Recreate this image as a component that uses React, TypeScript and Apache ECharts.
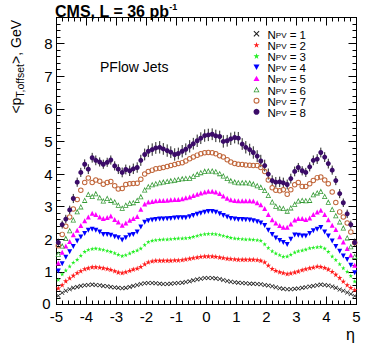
import React, { useEffect, useRef } from 'react';
import * as echarts from 'echarts';

const eta = [
  -4.94, -4.81, -4.69, -4.56, -4.44, -4.31, -4.19, -4.06, -3.94, -3.81,
  -3.69, -3.56, -3.44, -3.31, -3.19, -3.06, -2.94, -2.81, -2.69, -2.56,
  -2.44, -2.31, -2.19, -2.06, -1.94, -1.81, -1.69, -1.56, -1.44, -1.31,
  -1.19, -1.06, -0.94, -0.81, -0.69, -0.56, -0.44, -0.31, -0.19, -0.06,
  0.06, 0.19, 0.31, 0.44, 0.56, 0.69, 0.81, 0.94, 1.06, 1.19,
  1.31, 1.44, 1.56, 1.69, 1.81, 1.94, 2.06, 2.19, 2.31, 2.44,
  2.56, 2.69, 2.81, 2.94, 3.06, 3.19, 3.31, 3.44, 3.56, 3.69,
  3.81, 3.94, 4.06, 4.19, 4.31, 4.44, 4.56, 4.69, 4.81, 4.94,
];

const npv1 = [
  0.27, 0.36, 0.42, 0.47, 0.51, 0.54, 0.57, 0.59, 0.60, 0.61,
  0.60, 0.59, 0.57, 0.56, 0.54, 0.52, 0.51, 0.50, 0.51, 0.54,
  0.57, 0.60, 0.63, 0.65, 0.66, 0.66, 0.65, 0.64, 0.63, 0.63,
  0.64, 0.65, 0.66, 0.67, 0.69, 0.71, 0.74, 0.77, 0.79, 0.81,
  0.81, 0.81, 0.80, 0.78, 0.75, 0.72, 0.70, 0.68, 0.67, 0.66,
  0.65, 0.64, 0.64, 0.63, 0.62, 0.60, 0.58, 0.56, 0.53, 0.50,
  0.48, 0.47, 0.47, 0.48, 0.49, 0.51, 0.53, 0.55, 0.57, 0.59,
  0.61, 0.60, 0.58, 0.55, 0.51, 0.46, 0.42, 0.37, 0.32, 0.26,
];

const npv2 = [
  0.50, 0.60, 0.72, 0.81, 0.89, 0.97, 1.03, 1.09, 1.12, 1.15,
  1.15, 1.14, 1.12, 1.10, 1.07, 1.03, 0.99, 0.97, 1.00, 1.04,
  1.08, 1.11, 1.16, 1.24, 1.30, 1.33, 1.35, 1.35, 1.35, 1.35,
  1.35, 1.36, 1.36, 1.37, 1.39, 1.41, 1.43, 1.45, 1.47, 1.48,
  1.48, 1.48, 1.47, 1.45, 1.43, 1.41, 1.40, 1.39, 1.38, 1.38,
  1.38, 1.38, 1.38, 1.37, 1.35, 1.30, 1.20, 1.10, 1.04, 1.00,
  0.97, 0.94, 0.96, 0.99, 1.02, 1.06, 1.09, 1.12, 1.14, 1.17,
  1.16, 1.13, 1.08, 1.01, 0.92, 0.82, 0.71, 0.60, 0.52, 0.45,
];

const npv3 = [
  0.76, 0.93, 1.05, 1.17, 1.29, 1.38, 1.50, 1.62, 1.68, 1.71,
  1.72, 1.70, 1.68, 1.65, 1.62, 1.58, 1.53, 1.49, 1.52, 1.57,
  1.62, 1.66, 1.72, 1.83, 1.92, 1.96, 1.98, 1.99, 2.00, 2.00,
  2.01, 2.02, 2.03, 2.03, 2.04, 2.05, 2.08, 2.11, 2.14, 2.16,
  2.17, 2.17, 2.16, 2.14, 2.11, 2.08, 2.05, 2.03, 2.02, 2.01,
  2.00, 2.00, 1.99, 1.98, 1.96, 1.85, 1.74, 1.64, 1.57, 1.52,
  1.47, 1.48, 1.53, 1.60, 1.64, 1.66, 1.69, 1.73, 1.75, 1.76,
  1.77, 1.72, 1.62, 1.48, 1.37, 1.24, 1.12, 1.01, 0.88, 0.71,
];

const npv4 = [
  1.03, 1.25, 1.45, 1.62, 1.78, 1.95, 2.07, 2.18, 2.28, 2.31,
  2.28, 2.22, 2.15, 2.15, 2.12, 2.08, 2.05, 1.98, 2.05, 2.12,
  2.15, 2.22, 2.38, 2.52, 2.57, 2.59, 2.61, 2.62, 2.62, 2.63,
  2.64, 2.65, 2.66, 2.66, 2.66, 2.69, 2.73, 2.77, 2.80, 2.83,
  2.85, 2.85, 2.83, 2.78, 2.73, 2.68, 2.64, 2.62, 2.61, 2.61,
  2.60, 2.59, 2.57, 2.54, 2.50, 2.42, 2.28, 2.15, 2.04, 1.96,
  1.90, 1.84, 2.00, 2.13, 2.12, 2.10, 2.10, 2.18, 2.26, 2.31,
  2.36, 2.22, 2.10, 1.95, 1.78, 1.63, 1.49, 1.38, 1.20, 0.97,
];

const npv5 = [
  1.27, 1.60, 1.79, 1.93, 2.14, 2.28, 2.42, 2.57, 2.68, 2.80,
  2.76, 2.68, 2.64, 2.67, 2.71, 2.61, 2.53, 2.43, 2.50, 2.58,
  2.64, 2.70, 2.92, 3.08, 3.14, 3.16, 3.18, 3.19, 3.19, 3.20,
  3.21, 3.22, 3.22, 3.24, 3.27, 3.30, 3.34, 3.38, 3.42, 3.45,
  3.47, 3.47, 3.45, 3.40, 3.33, 3.26, 3.21, 3.19, 3.18, 3.18,
  3.18, 3.18, 3.17, 3.12, 3.06, 2.94, 2.76, 2.60, 2.50, 2.42,
  2.37, 2.37, 2.47, 2.59, 2.64, 2.64, 2.61, 2.65, 2.76, 2.84,
  2.89, 2.76, 2.60, 2.43, 2.30, 2.08, 1.92, 1.72, 1.52, 1.20,
];

const npv6 = [
  1.55, 1.80, 2.03, 2.27, 2.60, 2.85, 3.00, 3.20, 3.38, 3.32,
  3.40, 3.28, 3.18, 3.26, 3.20, 3.15, 3.05, 2.96, 3.05, 3.11,
  3.13, 3.20, 3.31, 3.52, 3.62, 3.68, 3.71, 3.74, 3.76, 3.78,
  3.80, 3.82, 3.84, 3.86, 3.87, 3.88, 3.94, 4.00, 4.05, 4.09,
  4.10, 4.10, 4.08, 4.02, 3.95, 3.87, 3.80, 3.76, 3.74, 3.74,
  3.74, 3.73, 3.70, 3.65, 3.60, 3.50, 3.35, 3.15, 3.02, 2.97,
  2.95, 2.87, 2.97, 3.08, 3.18, 3.20, 3.19, 3.20, 3.37, 3.43,
  3.47, 3.32, 3.14, 2.92, 2.73, 2.54, 2.35, 2.05, 1.78, 1.48,
];

const npv7 = [
  1.80, 2.15, 2.40, 2.68, 2.93, 3.22, 3.50, 3.74, 3.88, 3.74,
  3.82, 3.78, 3.69, 3.74, 3.77, 3.64, 3.54, 3.56, 3.68, 3.70,
  3.71, 3.72, 3.84, 4.00, 4.08, 4.12, 4.16, 4.18, 4.20, 4.23,
  4.26, 4.29, 4.32, 4.35, 4.40, 4.47, 4.52, 4.58, 4.62, 4.65,
  4.66, 4.65, 4.62, 4.56, 4.52, 4.44, 4.37, 4.32, 4.30, 4.29,
  4.28, 4.27, 4.26, 4.26, 4.20, 4.08, 3.82, 3.58, 3.50, 3.49,
  3.52, 3.38, 3.52, 3.67, 3.74, 3.62, 3.62, 3.70, 3.80, 3.89,
  3.91, 3.82, 3.70, 3.45, 3.13, 2.84, 2.68, 2.50, 2.22, 1.89,
];

const npv8 = [
  1.90, 2.45, 2.62, 2.90, 3.25, 3.75, 4.05, 4.30, 4.15, 4.50,
  4.42, 4.37, 4.30, 4.36, 4.43, 4.25, 4.15, 4.05, 4.14, 4.10,
  4.16, 4.20, 4.42, 4.60, 4.70, 4.75, 4.80, 4.82, 4.77, 4.72,
  4.67, 4.60, 4.63, 4.70, 4.76, 4.85, 4.93, 5.02, 5.10, 5.18,
  5.20, 5.22, 5.17, 5.15, 5.00, 5.02, 5.08, 5.12, 5.10, 4.92,
  4.82, 4.75, 4.66, 4.55, 4.40, 4.26, 4.00, 3.80, 3.75, 3.76,
  3.73, 3.68, 3.86, 4.08, 4.20, 4.10, 4.05, 4.22, 4.42, 4.46,
  4.66, 4.52, 4.32, 4.12, 3.80, 3.40, 3.12, 2.78, 2.45, 1.90,
];

const err8 = [
  0.12, 0.12, 0.13, 0.13, 0.14, 0.14, 0.14, 0.15, 0.15, 0.15,
  0.15, 0.14, 0.14, 0.14, 0.14, 0.14, 0.15, 0.15, 0.15, 0.16,
  0.16, 0.16, 0.17, 0.18, 0.18, 0.19, 0.18, 0.19, 0.18, 0.19,
  0.18, 0.19, 0.18, 0.19, 0.18, 0.19, 0.18, 0.19, 0.18, 0.19,
  0.19, 0.18, 0.19, 0.18, 0.19, 0.18, 0.19, 0.18, 0.19, 0.18,
  0.19, 0.18, 0.19, 0.18, 0.19, 0.18, 0.17, 0.16, 0.16, 0.16,
  0.16, 0.15, 0.15, 0.15, 0.14, 0.14, 0.14, 0.14, 0.15, 0.15,
  0.15, 0.15, 0.15, 0.14, 0.14, 0.14, 0.13, 0.13, 0.12, 0.12,
];

const seriesNames = [
  'N_PV = 1', 'N_PV = 2', 'N_PV = 3', 'N_PV = 4',
  'N_PV = 5', 'N_PV = 6', 'N_PV = 7', 'N_PV = 8',
];
const seriesValues = [npv1, npv2, npv3, npv4, npv5, npv6, npv7, npv8];

const FONT = '"Liberation Sans", Arial, Helvetica, sans-serif';
const STAR = 'path://M5,0L6.2,3.6L10,3.6L6.9,5.8L8.1,9.5L5,7.2L1.9,9.5L3.1,5.8L0,3.6L3.8,3.6Z';
const CROSS = 'path://M0,1.2L1.2,0L5,3.8L8.8,0L10,1.2L6.2,5L10,8.8L8.8,10L5,6.2L1.2,10L0,8.8L3.8,5Z';
const DOWN_TRI = 'path://M0,0L10,0L5,9Z';
const UP_TRI = 'path://M5,0L10,9L0,9Z';
const OPEN_TRI = 'path://M5,0L10,9L0,9ZM5,3L2,7.7L8,7.7Z';
const OPEN_CIRCLE = 'path://M5,0A5,5 0 1,1 5,10A5,5 0 1,1 5,0ZM5,1.8A3.2,3.2 0 1,0 5,8.2A3.2,3.2 0 1,0 5,1.8Z';

const markerStyles: any[] = [
  { symbol: CROSS, symbolSize: 4.5, color: '#1a1a1a' },
  { symbol: STAR, symbolSize: 5.5, color: '#ff1a1a' },
  { symbol: STAR, symbolSize: 4.5, color: '#22ee22' },
  { symbol: DOWN_TRI, symbolSize: 5, color: '#0000ff' },
  { symbol: UP_TRI, symbolSize: 5, color: '#ff00ff' },
  { symbol: OPEN_TRI, symbolSize: 5.5, color: '#339933' },
  { symbol: OPEN_CIRCLE, symbolSize: 5.5, color: '#c0663a' },
  { symbol: 'circle', symbolSize: 5, color: '#3b0c68' },
];

export default function App() {
  const ref = useRef<HTMLDivElement>(null);
  useEffect(() => {
    if (!ref.current) return;
    const chart = echarts.init(ref.current, null, { renderer: 'svg' });

    const baseAxis = {
      type: 'value',
      axisLine: { show: true, onZero: false, lineStyle: { color: '#000', width: 1 } },
      axisTick: { show: true, inside: true, length: 8, lineStyle: { color: '#000', width: 1 } },
      minorTick: { show: true, splitNumber: 5, length: 4, lineStyle: { color: '#000', width: 1 } },
      splitLine: { show: false },
      minorSplitLine: { show: false },
    };

    const scatterSeries = seriesValues.map((vals, k) => {
      const m = markerStyles[k];
      return {
        type: 'scatter',
        name: seriesNames[k],
        xAxisIndex: 0,
        yAxisIndex: 0,
        symbol: m.symbol,
        symbolSize: m.symbolSize,
        itemStyle: { color: m.color, opacity: 1 },
        z: 3 + k,
        data: eta.map((x, i) => [x, vals[i]]),
      };
    });

    const errSeries = {
      type: 'custom',
      name: 'err8',
      xAxisIndex: 0,
      yAxisIndex: 0,
      z: 2,
      silent: true,
      encode: { x: 0, y: 1 },
      data: eta.map((x, i) => [x, npv8[i], err8[i]]),
      renderItem: (params: any, api: any) => {
        const x = api.value(0);
        const y = api.value(1);
        const e = api.value(2);
        const p1 = api.coord([x, y - e]);
        const p2 = api.coord([x, y + e]);
        return {
          type: 'line',
          shape: { x1: p1[0], y1: p1[1], x2: p2[0], y2: p2[1] },
          style: { stroke: '#222', lineWidth: 1 },
        };
      },
    };

    chart.setOption({
      animation: false,
      backgroundColor: '#ffffff',
      textStyle: { fontFamily: FONT },
      grid: { left: 56.5, right: 17.5, top: 17.5, bottom: 54.5, containLabel: false },
      xAxis: [
        {
          ...baseAxis,
          position: 'bottom',
          min: -5,
          max: 5,
          interval: 1,
          axisLabel: { show: true, fontSize: 15, lineHeight: 13, color: '#000', margin: 5, fontFamily: FONT },
        },
        {
          ...baseAxis,
          position: 'top',
          min: -5,
          max: 5,
          interval: 1,
          axisLabel: { show: false },
        },
      ],
      yAxis: [
        {
          ...baseAxis,
          position: 'left',
          min: 0,
          max: 8.8,
          interval: 1,
          axisLabel: {
            show: true,
            fontSize: 15,
            lineHeight: 11,
            color: '#000',
            margin: 4,
            fontFamily: FONT,
            showMaxLabel: false,
            formatter: (v: number) => (v === 0 ? '{z|0}' : String(v)),
            rich: {
              z: { fontSize: 15, lineHeight: 11, padding: [0, 2, 2, 0], fontFamily: FONT, color: '#000' },
            },
          },
        },
        {
          ...baseAxis,
          position: 'right',
          min: 0,
          max: 8.8,
          interval: 1,
          axisLabel: { show: false },
        },
      ],
      legend: {
        show: true,
        orient: 'vertical',
        left: 253.5,
        top: 28,
        padding: 0,
        itemWidth: 6,
        itemHeight: 6,
        itemGap: -1.6,
        data: seriesNames,
        formatter: (name: string) => {
          const k = name.split('= ')[1];
          return `{f|N}{s|PV}{n| = ${k}}`;
        },
        textStyle: {
          fontFamily: FONT,
          color: '#000',
          rich: {
            f: { fontSize: 11.5, lineHeight: 10, verticalAlign: 'top', padding: [0, 0, 0, 3], fontFamily: FONT, color: '#000' },
            n: { fontSize: 11.5, lineHeight: 10, verticalAlign: 'top', fontFamily: FONT, color: '#000' },
            s: { fontSize: 8, lineHeight: 7, padding: [3.5, 0, 0, 0], fontFamily: FONT, color: '#000' },
          },
        },
      },
      graphic: [
        {
          type: 'text',
          left: 55,
          top: 2,
          style: {
            text: '{b|CMS, L = 36 pb}{p|-1}',
            fontFamily: FONT,
            rich: {
              b: { fontSize: 16, fontWeight: 'bold', lineHeight: 17, verticalAlign: 'bottom', fontFamily: FONT, fill: '#000' },
              p: { fontSize: 9, fontWeight: 'bold', lineHeight: 9, verticalAlign: 'top', fontFamily: FONT, fill: '#000' },
            },
          },
        },
        {
          type: 'text',
          left: 100,
          top: 60,
          style: { text: 'PFlow Jets', fontSize: 14, fontFamily: FONT, fill: '#000' },
        },
        {
          type: 'text',
          left: 346,
          top: 326,
          style: { text: 'η', fontSize: 16, fontFamily: FONT, fill: '#000' },
        },
        {
          type: 'text',
          x: 9,
          y: 20,
          rotation: Math.PI / 2,
          style: {
            text: '{m|<p}{s|T,offset}{m|>, GeV}',
            align: 'right',
            verticalAlign: 'top',
            fontFamily: FONT,
            rich: {
              m: { fontSize: 14, lineHeight: 14, verticalAlign: 'top', fontFamily: FONT, fill: '#000' },
              s: { fontSize: 10.5, lineHeight: 10, padding: [7, 0, 0, 0], fontFamily: FONT, fill: '#000' },
            },
          },
        },
      ],
      series: [errSeries, ...scatterSeries],
    });

    return () => {
      chart.dispose();
    };
  }, []);

  return (
    <div
      ref={ref}
      style={{ position: 'absolute', left: 0, top: 0, width: 374, height: 359, background: '#fff' }}
    />
  );
}
